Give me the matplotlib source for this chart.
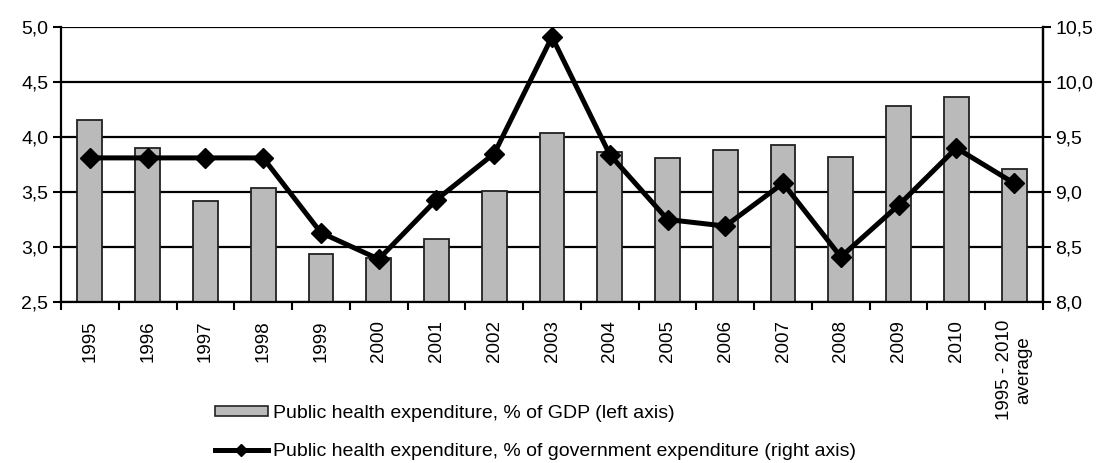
import numpy as np
import matplotlib.pyplot as plt
from matplotlib.ticker import FuncFormatter
from matplotlib.patches import Patch
from matplotlib.lines import Line2D

plt.rcParams['font.family'] = ['Liberation Sans', 'DejaVu Sans']

# Data
categories = ['1995', '1996', '1997', '1998', '1999', '2000', '2001', '2002', '2003',
              '2004', '2005', '2006', '2007', '2008', '2009', '2010', '1995 - 2010\naverage']
gdp_share = [4.15, 3.90, 3.42, 3.54, 2.94, 2.90, 3.07, 3.51, 4.04,
             3.86, 3.81, 3.88, 3.93, 3.82, 4.28, 4.36, 3.71]
gov_share = [9.31, 9.31, 9.31, 9.31, 8.63, 8.39, 8.93, 9.35, 10.41,
             9.34, 8.75, 8.69, 9.08, 8.41, 8.88, 9.40, 9.08]

label_bar = 'Public health expenditure, % of GDP (left axis)'
label_line = 'Public health expenditure, % of government expenditure (right axis)'

comma = FuncFormatter(lambda v, p: f'{v:.1f}'.replace('.', ','))
bar_grey = '#bababa'

fig = plt.figure(figsize=(11.04, 4.63), dpi=100)
ax = fig.add_axes([61 / 1104, 1 - 302 / 463, 982 / 1104, 275 / 463])
x = np.arange(len(categories))

ax.bar(x, gdp_share, width=0.43, color=bar_grey, edgecolor='#222222', linewidth=1.3, zorder=2)
ax.set_ylim(2.5, 5.0)
ax.set_yticks(np.arange(2.5, 5.01, 0.5))
ax.yaxis.set_major_formatter(comma)
ax.set_xlim(-0.5, len(categories) - 0.5)
ax.set_xticks(x)
ax.set_xticklabels(categories, rotation=90, va='top', ha='center',
                   multialignment='center', fontsize=13.5)
ax.tick_params(axis='x', length=0, pad=13)
ax.set_xticks(np.arange(-0.5, len(categories), 1), minor=True)
ax.tick_params(axis='x', which='minor', length=6, width=1.5, direction='out')
ax.tick_params(axis='y', length=6, width=1.5, labelsize=14, pad=3)
ax.grid(axis='y', color='black', linewidth=1.6, zorder=1)
ax.set_axisbelow(True)
for side in ['left', 'bottom', 'right']:
    ax.spines[side].set_linewidth(1.6)
ax.spines['top'].set_visible(False)

ax2 = ax.twinx()
ax2.plot(x, gov_share, color='black', linewidth=3.6, marker='D', markersize=10, zorder=3)
ax2.set_ylim(8.0, 10.5)
ax2.set_yticks(np.arange(8.0, 10.51, 0.5))
ax2.yaxis.set_major_formatter(comma)
ax2.tick_params(axis='y', length=6, width=1.5, labelsize=14, pad=3)
ax2.spines['right'].set_linewidth(1.6)
ax2.spines['top'].set_visible(False)
ax2.spines['left'].set_visible(False)
ax2.spines['bottom'].set_visible(False)

handles = [Patch(facecolor=bar_grey, edgecolor='#222222', linewidth=1.2),
           Line2D([0], [0], color='black', linewidth=3.6, marker='D', markersize=6)]
fig.legend(handles, [label_bar, label_line], loc='upper left',
           bbox_to_anchor=(215 / 1104, 1 - 405 / 463), frameon=False, fontsize=14,
           handlelength=2.7, handleheight=0.4, handletextpad=0.27, labelspacing=1.1,
           borderaxespad=0, borderpad=0)

fig.savefig('out.png', dpi=100)
